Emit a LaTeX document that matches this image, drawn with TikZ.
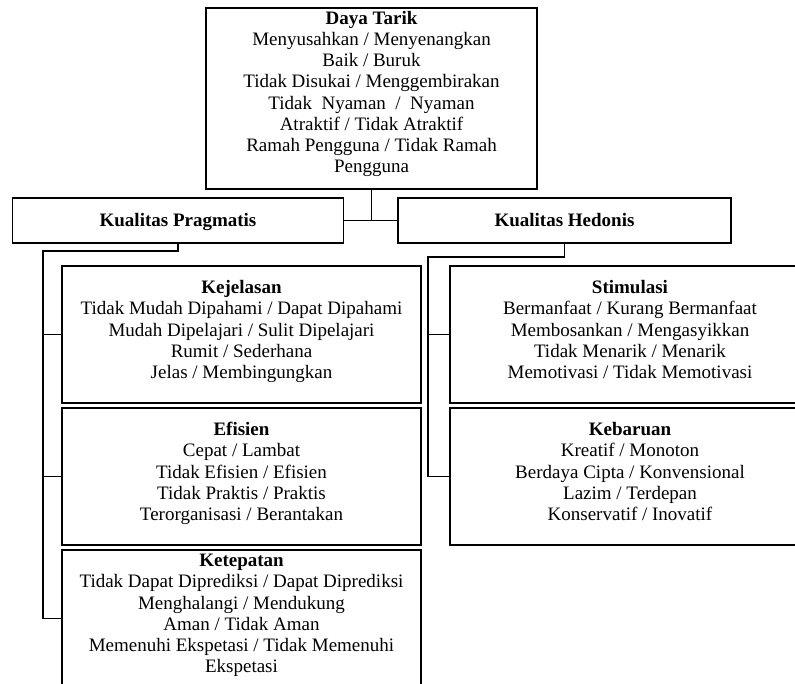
\documentclass[tikz,border=0pt]{standalone}
\usepackage{fontspec}
\setmainfont{Liberation Serif}
\newcommand{\lowpad}[1]{\rule[-#1]{0pt}{#1}}
\tikzstyle{topbox} = [rectangle, 
minimum width=331pt, 
minimum height=181pt, 
inner sep=2pt, 
align=center, 
draw=black, line width=1.2pt, 
font=\fontsize{19pt}{21.2pt}\selectfont]
\tikzstyle{quality} = [rectangle, 
minimum width=331pt, 
minimum height=45pt, 
inner sep=2pt, 
text height=15pt, text depth=2pt, 
align=center, 
draw=black, line width=1.2pt, 
font=\fontsize{19pt}{21.2pt}\selectfont]
\tikzstyle{aspect} = [rectangle, 
minimum width=359pt, 
minimum height=137pt, 
inner sep=2pt, 
align=center, 
draw=black, line width=1.2pt, 
font=\fontsize{19pt}{21.2pt}\selectfont]
\tikzstyle{conn} = [line width=1.1pt]

\begin{document}
\begin{tikzpicture}[node distance=142pt]
		\useasboundingbox (0,0) rectangle (795pt,-684pt);
		
		\node (daya) [topbox] at (371.5pt,-98.5pt) {\textbf{Daya Tarik}\\ Menyusahkan / Menyenangkan\\ Baik / Buruk\\ Tidak Disukai / Menggembirakan\\ Tidak~~Nyaman~~/~~Nyaman\\ Atraktif / Tidak Atraktif\\ Ramah Pengguna / Tidak Ramah\\ Pengguna\lowpad{13pt}};
		
		\node (prag) [quality, below of=daya, yshift=20pt, xshift=-193.5pt] {\textbf{Kualitas Pragmatis}};
		\node (hedo) [quality, below of=daya, yshift=20pt, xshift=193pt, minimum width=333pt] {\textbf{Kualitas Hedonis}};
		
		\node (kej) [aspect, below of=prag, yshift=28pt, xshift=63.5pt] {\textbf{Kejelasan}\\ Tidak Mudah Dipahami / Dapat Dipahami\\ Mudah Dipelajari / Sulit Dipelajari\\ Rumit / Sederhana\\ Jelas / Membingungkan\lowpad{10pt}};
		\node (efi) [aspect, below of=kej] {\textbf{Efisien}\\ Cepat / Lambat\\ Tidak Efisien / Efisien\\ Tidak Praktis / Praktis\\ Terorganisasi / Berantakan\lowpad{10pt}};
		\node (ket) [aspect, below of=efi] {\textbf{Ketepatan}\\ Tidak Dapat Diprediksi / Dapat Diprediksi\\ Menghalangi / Mendukung\\ Aman / Tidak Aman\\ Memenuhi Ekspetasi / Tidak Memenuhi\\ Ekspetasi\lowpad{10pt}};
		
		\node (sti) [aspect, below of=hedo, yshift=28pt, xshift=65.5pt, minimum width=360pt] {\textbf{Stimulasi}\\ Bermanfaat / Kurang Bermanfaat\\ Membosankan / Mengasyikkan\\ Tidak Menarik / Menarik\\ Memotivasi / Tidak Memotivasi\lowpad{10pt}};
		\node (keb) [aspect, below of=sti, minimum width=360pt] {\textbf{Kebaruan}\\ Kreatif / Monoton\\ Berdaya Cipta / Konvensional\\ Lazim / Terdepan\\ Konservatif / Inovatif\lowpad{10pt}};
		
		\coordinate (joint) at (daya.south |- prag.east);
		\coordinate (lspine) at (43pt,-251pt);
		\coordinate (rspine) at (428pt,-257pt);
		
		\draw [conn] (daya) -- (joint);
		\draw [conn] (prag) -- (hedo);
		
		\draw [conn] (prag.south) |- (lspine) |- (ket.west);
		\draw [conn] (kej.west) -- (kej.west -| lspine);
		\draw [conn] (efi.west) -- (efi.west -| lspine);
		
		\draw [conn] (hedo.south) |- (rspine) |- (keb.west);
		\draw [conn] (sti.west) -- (sti.west -| rspine);
		
	\end{tikzpicture}
\end{document}
